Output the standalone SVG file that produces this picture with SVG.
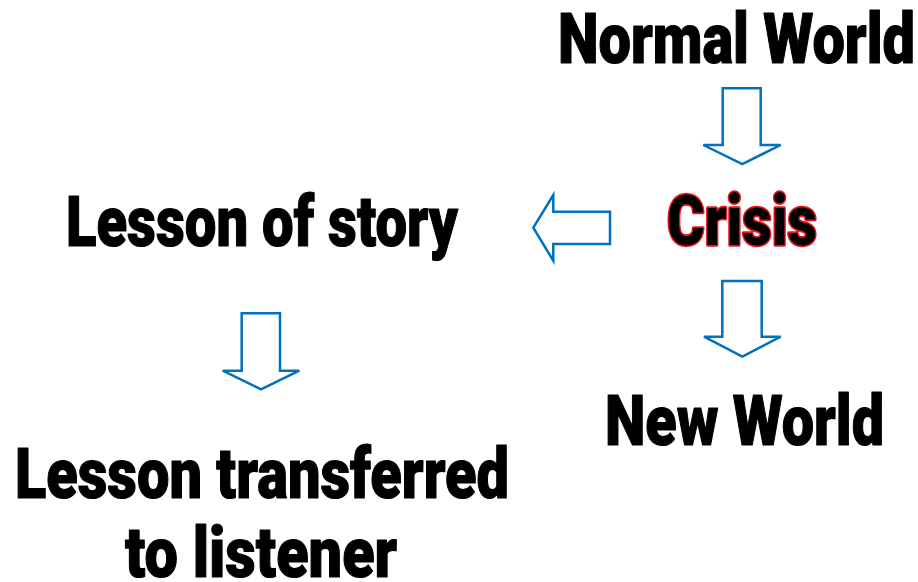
<svg xmlns="http://www.w3.org/2000/svg" width="918" height="582" viewBox="0 0 918 582">
<style>
.t{font-family:Roboto,"Liberation Sans",sans-serif;font-weight:900;font-size:71px;fill:#000;stroke:#000;stroke-width:1.2;stroke-linejoin:round}
.crisis{stroke:#e8141c;stroke-width:3.5;paint-order:stroke}
.arr{fill:#fff;stroke:#0070c0;stroke-width:2.5;stroke-linejoin:miter}
</style>
<rect width="918" height="582" fill="#fff"/>
<g id="normal-world"><text class="t" x="558" y="63" textLength="357" lengthAdjust="spacingAndGlyphs">Normal World</text></g>
<g id="crisis"><text class="t crisis" x="667" y="245" textLength="150" lengthAdjust="spacingAndGlyphs">Crisis</text></g>
<g id="lesson-of-story"><text class="t" x="66" y="246" textLength="392" lengthAdjust="spacingAndGlyphs">Lesson of story</text></g>
<g id="new-world"><text class="t" x="605" y="445" textLength="279" lengthAdjust="spacingAndGlyphs">New World</text></g>
<g id="lesson-transferred"><text class="t" x="15" y="498" textLength="494" lengthAdjust="spacingAndGlyphs">Lesson transferred</text><text class="t" x="125" y="577" textLength="272" lengthAdjust="spacingAndGlyphs">to listener</text></g>
<g id="connectors">
<path class="arr" d="M722.7,88.3 H760.7 V145 H780.7 L742.3,164 L703.3,145 H722.7 Z"/>
<path class="arr" d="M722.3,281 H761.7 V336.7 H780.7 L742.3,356.7 L704,336.7 H722.3 Z"/>
<path class="arr" d="M610,211.7 V244 H553.3 V260.7 L533.3,227.7 L553.3,195 V211.7 Z"/>
<path class="arr" d="M241.7,313.3 H280 V370.7 H299.3 L261,389.3 L222.7,370.7 H241.7 Z"/>
</g>
</svg>
